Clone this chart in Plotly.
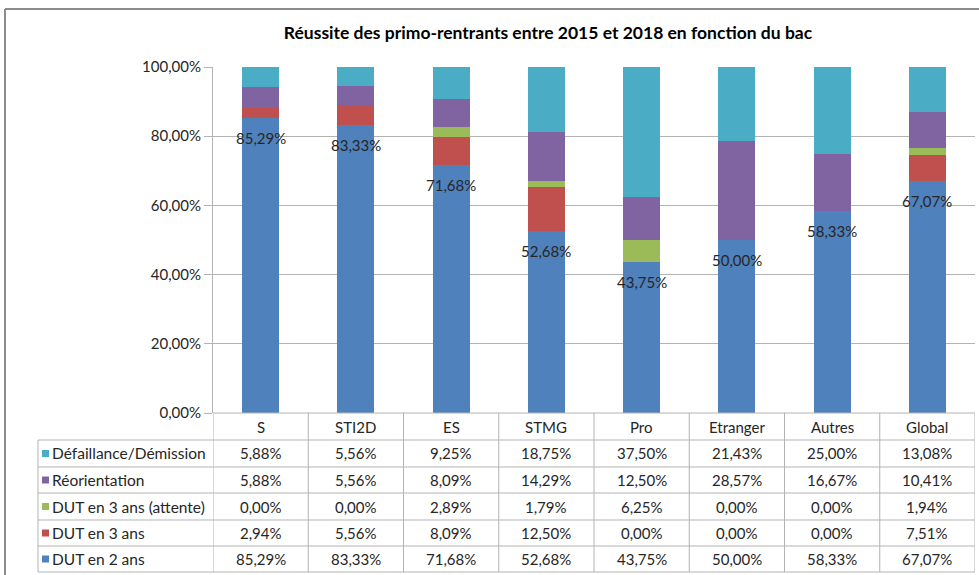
import plotly.graph_objects as go

# Bac categories and stacked outcome shares (%)
categories = ["S", "STI2D", "ES", "STMG", "Pro", "Etranger", "Autres", "Global"]
dut_2_ans = [85.29, 83.33, 71.68, 52.68, 43.75, 50.00, 58.33, 67.07]
dut_3_ans = [2.94, 5.56, 8.09, 12.50, 0.00, 0.00, 0.00, 7.51]
dut_3_ans_attente = [0.00, 0.00, 2.89, 1.79, 6.25, 0.00, 0.00, 1.94]
reorientation = [5.88, 5.56, 8.09, 14.29, 12.50, 28.57, 16.67, 10.41]
defaillance = [5.88, 5.56, 9.25, 18.75, 37.50, 21.43, 25.00, 13.08]

y_ticks = [0, 20, 40, 60, 80, 100]

# Stack order from bottom to top
series = [
    ("DUT en 2 ans", dut_2_ans, "#4F81BD"),
    ("DUT en 3 ans", dut_3_ans, "#C0504D"),
    ("DUT en 3 ans (attente)", dut_3_ans_attente, "#9BBB59"),
    ("Réorientation", reorientation, "#8064A2"),
    ("Défaillance/Démission", defaillance, "#4BACC6"),
]

W, H = 979, 575
L, R, T, B = 213, 4, 67, 162
PW, PH = W - L - R, H - T - B
FONT = "Lato, 'Open Sans', sans-serif"
TXT = "#262626"
GRID = "#B3B3B3"


def px_x(p):
    return (p - L) / PW


def px_y(p):
    return (H - B - p) / PH


def pct(v):
    return f"{v:.2f}".replace(".", ",") + "%"


fig = go.Figure()
for name, vals, color in series:
    fig.add_trace(go.Bar(x=categories, y=vals, name=name, marker_color=color,
                         marker_line_width=0, showlegend=False))

shapes = []
annotations = []

# Value labels on the base segment
for c, v in zip(categories, dut_2_ans):
    annotations.append(dict(x=c, y=v, xref="x", yref="y", text=pct(v), showarrow=False,
                            xanchor="center", yanchor="middle", yshift=-20,
                            font=dict(family=FONT, size=15, color=TXT)))

# Data table under the chart
row_edges = [413, 440, 467, 493, 520, 546, 572]
line = dict(color=GRID, width=1)
# horizontal rules
shapes.append(dict(type="line", xref="paper", yref="paper", x0=0, x1=1,
                   y0=px_y(row_edges[0]), y1=px_y(row_edges[0]), line=line))
for yy in row_edges[1:]:
    shapes.append(dict(type="line", xref="paper", yref="paper", x0=px_x(38), x1=1,
                       y0=px_y(yy), y1=px_y(yy), line=line))
# vertical rules on category boundaries
for i in range(len(categories) + 1):
    shapes.append(dict(type="line", xref="x", yref="paper", x0=i - 0.5, x1=i - 0.5,
                       y0=px_y(row_edges[0]), y1=px_y(row_edges[-1]), line=line))
shapes.append(dict(type="line", xref="paper", yref="paper", x0=px_x(38), x1=px_x(38),
                   y0=px_y(row_edges[1]), y1=px_y(row_edges[-1]), line=line))

# header row: category names
hy = (row_edges[0] + row_edges[1]) / 2
for c in categories:
    annotations.append(dict(x=c, y=px_y(hy), xref="x", yref="paper", text=c, showarrow=False,
                            xanchor="center", yanchor="middle",
                            font=dict(family=FONT, size=15, color=TXT)))

# body rows, top row is the top of the stack
for r, (name, vals, color) in enumerate(reversed(series)):
    cy = (row_edges[r + 1] + row_edges[r + 2]) / 2
    shapes.append(dict(type="rect", xref="paper", yref="paper",
                       x0=px_x(42), x1=px_x(49), y0=px_y(cy + 3.5), y1=px_y(cy - 3.5),
                       fillcolor=color, line=dict(width=0)))
    annotations.append(dict(x=px_x(50), y=px_y(cy), xref="paper", yref="paper", text=name,
                            showarrow=False, xanchor="left", yanchor="middle",
                            font=dict(family=FONT, size=15.5, color=TXT)))
    for c, v in zip(categories, vals):
        annotations.append(dict(x=c, y=px_y(cy), xref="x", yref="paper", text=pct(v),
                                showarrow=False, xanchor="center", yanchor="middle",
                                font=dict(family=FONT, size=15, color=TXT)))

# Outer chart frame
frame = dict(color="#8C8C8C", width=2)
shapes.append(dict(type="line", xref="paper", yref="paper", x0=px_x(5), x1=px_x(979),
                   y0=px_y(9), y1=px_y(9), line=frame))
shapes.append(dict(type="line", xref="paper", yref="paper", x0=px_x(5), x1=px_x(5),
                   y0=px_y(9), y1=px_y(575), line=frame))

fig.update_layout(
    width=W, height=H,
    margin=dict(l=L, r=R, t=T, b=B),
    barmode="stack", bargap=0.61,
    plot_bgcolor="white", paper_bgcolor="white",
    title=dict(text="<b>Réussite des primo-rentrants entre 2015 et 2018 en fonction du bac</b>",
               x=548 / W, xanchor="center", xref="container",
               y=1 - 33 / H, yanchor="middle", yref="container",
               font=dict(family=FONT, size=17.5, color="#000000")),
    font=dict(family=FONT, size=15, color=TXT),
    shapes=shapes,
    annotations=annotations,
)
fig.update_xaxes(range=[-0.5, len(categories) - 0.5], showticklabels=False, ticks="",
                 showgrid=False, zeroline=False, showline=False)
fig.update_yaxes(range=[0, 100], tickvals=y_ticks, ticktext=[pct(v) for v in y_ticks],
                 showgrid=True, gridcolor=GRID, gridwidth=1, zeroline=False,
                 showline=True, linecolor=GRID, ticks="outside", ticklen=8, tickcolor=GRID,
                 tickfont=dict(family=FONT, size=15, color=TXT))

fig.write_html("out.html")
